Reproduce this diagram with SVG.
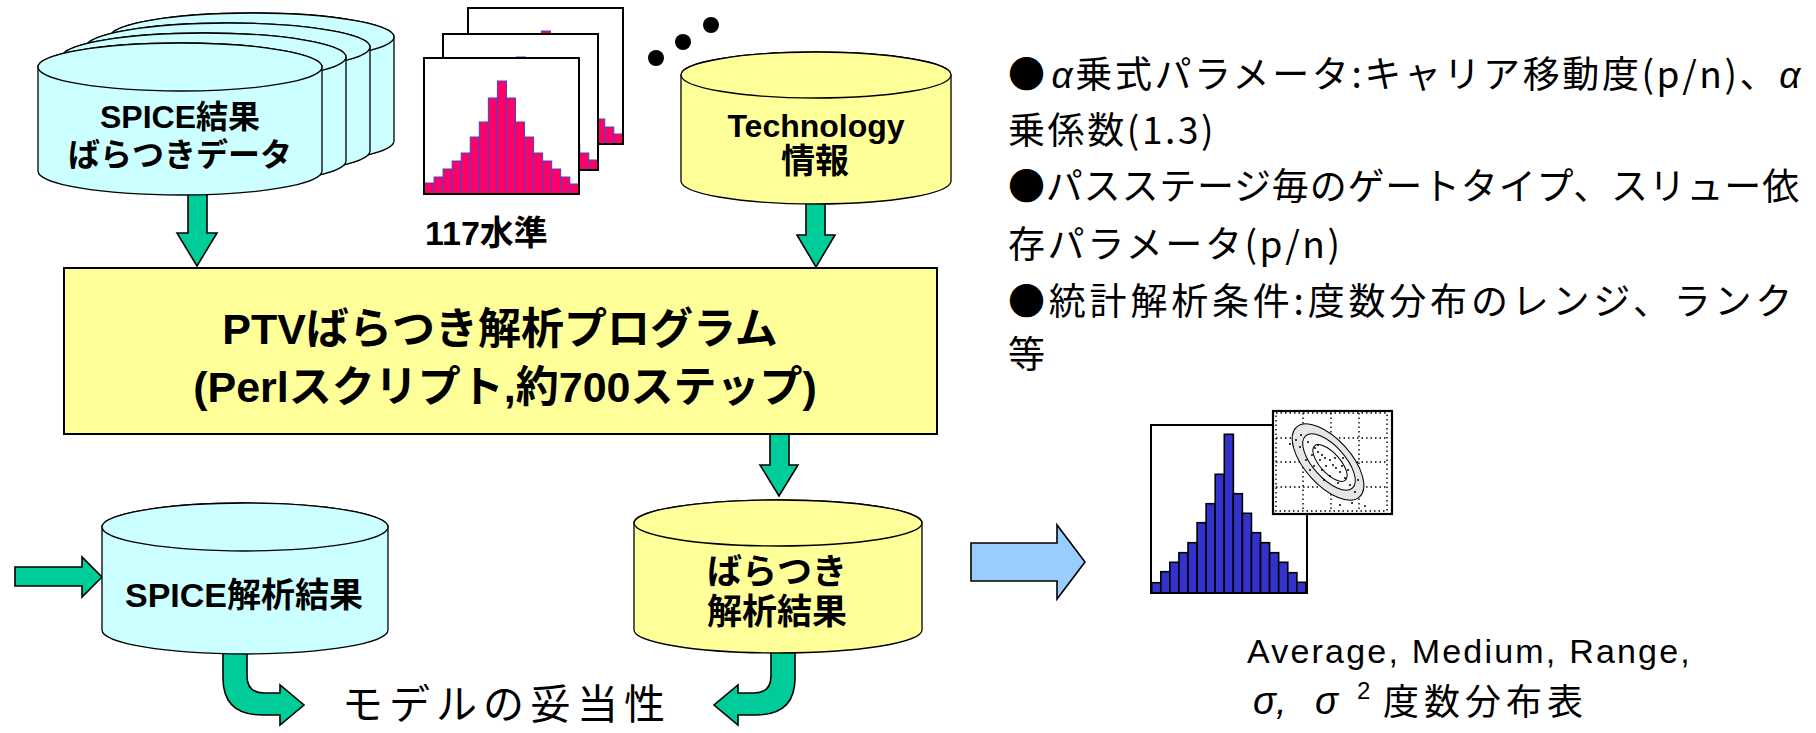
<svg xmlns="http://www.w3.org/2000/svg" xmlns:xlink="http://www.w3.org/1999/xlink" width="1816" height="733" viewBox="0 0 1816 733">
<style>
.cyl-c{fill:#CCFFFF;stroke:#000;stroke-width:1.3}
.cyl-y{fill:#FFFF99;stroke:#000;stroke-width:1.3}
.garrow{fill:#00CC99;stroke:#000;stroke-width:1.6;stroke-linejoin:miter}
.barrow{fill:#99CCFF;stroke:#000;stroke-width:1.6}
.lb{font-family:"Liberation Sans","Noto Sans CJK JP",sans-serif;font-weight:bold;fill:#000}
.jr{font-family:"Noto Sans CJK JP","Liberation Sans",sans-serif;fill:#000}
.lr{font-family:"Liberation Sans","Noto Sans CJK JP",sans-serif;fill:#000}
.pbar{fill:#FF0066;stroke:#4444CC;stroke-width:1}
.bbar{fill:#3333CC;stroke:#000;stroke-width:1.6}
.frame{fill:none;stroke:#000;stroke-width:2}
.dot{stroke:#000;stroke-width:1.4;stroke-dasharray:1.5 3;fill:none}
.note{font-size:37px}
</style>
<defs>
<g id="phist">
<rect x="0" y="0" width="155" height="136" fill="#fff"/>
<rect class="pbar" x="1" y="125" width="9.05" height="11"/>
<rect class="pbar" x="10.05" y="119" width="9.05" height="17"/>
<rect class="pbar" x="19.1" y="111" width="9.05" height="25"/>
<rect class="pbar" x="28.15" y="103" width="9.05" height="33"/>
<rect class="pbar" x="37.2" y="95" width="9.05" height="41"/>
<rect class="pbar" x="46.25" y="79" width="9.05" height="57"/>
<rect class="pbar" x="55.3" y="64" width="9.05" height="72"/>
<rect class="pbar" x="64.35" y="40" width="9.05" height="96"/>
<rect class="pbar" x="73.4" y="23" width="9.05" height="113"/>
<rect class="pbar" x="82.45" y="40" width="9.05" height="96"/>
<rect class="pbar" x="91.5" y="64" width="9.05" height="72"/>
<rect class="pbar" x="100.55" y="79" width="9.05" height="57"/>
<rect class="pbar" x="109.6" y="95" width="9.05" height="41"/>
<rect class="pbar" x="118.65" y="103" width="9.05" height="33"/>
<rect class="pbar" x="127.7" y="111" width="9.05" height="25"/>
<rect class="pbar" x="136.75" y="119" width="9.05" height="17"/>
<rect class="pbar" x="145.8" y="126" width="9.05" height="10"/>
<rect class="frame" x="0" y="0" width="155" height="136"/>
</g>
</defs>

<g id="connectors">
<polygon class="garrow" points="188,190 207,190 207,233 217,233 197,266 177,233 188,233"/>
<polygon class="garrow" points="806,198 825,198 825,235 835,235 816,267 797,235 806,235"/>
<polygon class="garrow" points="770,434 789,434 789,465 798,465 779,496 760,465 770,465"/>
<polygon class="garrow" points="15,567 82,567 82,557 102,577 82,597 82,586 15,586"/>
<path class="garrow" d="M223,648 H247 V676 Q247,693 264,693 H280 V685 L304,705 L280,725 V715 H262 Q223,715 223,678 Z"/>
<path class="garrow" d="M795,648 H771 V676 Q771,693 754,693 H738 V685 L714,705 L738,725 V715 H756 Q795,715 795,678 Z"/>
<polygon class="barrow" points="971,543 1057,543 1057,525 1085,562 1057,599 1057,581 971,581"/>
</g>

<g id="spice-data">
<path class="cyl-c" d="M110,37 V141 A142,24 0 0 0 394,141 V37 A142,24 0 0 0 110,37 Z"/>
<ellipse class="cyl-c" cx="252" cy="37" rx="142" ry="24"/>
<path class="cyl-c" d="M86,47 V151 A142,24 0 0 0 370,151 V47 A142,24 0 0 0 86,47 Z"/>
<ellipse class="cyl-c" cx="228" cy="47" rx="142" ry="24"/>
<path class="cyl-c" d="M62,57 V161 A142,24 0 0 0 346,161 V57 A142,24 0 0 0 62,57 Z"/>
<ellipse class="cyl-c" cx="204" cy="57" rx="142" ry="24"/>
<path class="cyl-c" d="M38,67 V171 A142,24 0 0 0 322,171 V67 A142,24 0 0 0 38,67 Z"/>
<ellipse class="cyl-c" cx="180" cy="67" rx="142" ry="24"/>
<text class="lb" x="180" y="128" font-size="32" text-anchor="middle">SPICE結果</text>
<text class="lb" x="180" y="166" font-size="32" text-anchor="middle">ばらつきデータ</text>
</g>

<g id="histograms-117">
<use xlink:href="#phist" href="#phist" transform="translate(468,8)"/>
<use xlink:href="#phist" href="#phist" transform="translate(443,34)"/>
<use xlink:href="#phist" href="#phist" transform="translate(424,58)"/>
<text class="lb" x="425" y="245" font-size="34">117水準</text>
</g>

<g id="ellipsis-dots">
<circle cx="656" cy="58" r="8"/>
<circle cx="683" cy="42" r="8"/>
<circle cx="711" cy="25" r="8"/>
</g>

<g id="technology">
<path class="cyl-y" d="M681,75 V181 A135,23 0 0 0 951,181 V75 A135,23 0 0 0 681,75 Z"/>
<ellipse class="cyl-y" cx="816" cy="75" rx="135" ry="23"/>
<text class="lb" x="816" y="137" font-size="32" text-anchor="middle">Technology</text>
<text class="lb" x="815" y="173" font-size="34" text-anchor="middle">情報</text>
</g>

<g id="ptv-program">
<rect x="64" y="268" width="873" height="166" fill="#FFFF99" stroke="#000" stroke-width="2"/>
<text class="lb" x="500" y="344" font-size="43" text-anchor="middle">PTVばらつき解析プログラム</text>
<text class="lb" x="505" y="402" font-size="43" text-anchor="middle">(Perlスクリプト,約700ステップ)</text>
</g>

<g id="spice-result">
<path class="cyl-c" d="M102,527 V630 A143,24 0 0 0 388,630 V527 A143,24 0 0 0 102,527 Z"/>
<ellipse class="cyl-c" cx="245" cy="527" rx="143" ry="24"/>
<text class="lb" x="244" y="607" font-size="34" text-anchor="middle">SPICE解析結果</text>
</g>

<g id="variation-result">
<path class="cyl-y" d="M634,523 V630 A144,23 0 0 0 922,630 V523 A144,23 0 0 0 634,523 Z"/>
<ellipse class="cyl-y" cx="778" cy="523" rx="144" ry="23"/>
<text class="lb" x="777" y="584" font-size="35" text-anchor="middle">ばらつき</text>
<text class="lb" x="777" y="624" font-size="35" text-anchor="middle">解析結果</text>
</g>

<g id="model-validity">
<text class="jr" x="342" y="719" font-size="41" letter-spacing="6">モデルの妥当性</text>
</g>

<g id="result-charts">
<rect x="1151" y="425" width="156" height="168" fill="#fff"/>
<rect class="bbar" x="1151.7" y="582.7" width="9.07" height="10.3"/>
<rect class="bbar" x="1160.8" y="571.7" width="9.07" height="21.3"/>
<rect class="bbar" x="1169.8" y="562.3" width="9.07" height="30.7"/>
<rect class="bbar" x="1178.9" y="552.7" width="9.07" height="40.3"/>
<rect class="bbar" x="1188.0" y="542.7" width="9.07" height="50.3"/>
<rect class="bbar" x="1197.1" y="522.7" width="9.07" height="70.3"/>
<rect class="bbar" x="1206.1" y="503.7" width="9.07" height="89.3"/>
<rect class="bbar" x="1215.2" y="474.3" width="9.07" height="118.7"/>
<rect class="bbar" x="1224.3" y="434.3" width="9.07" height="158.7"/>
<rect class="bbar" x="1233.3" y="493.7" width="9.07" height="99.3"/>
<rect class="bbar" x="1242.4" y="513.3" width="9.07" height="79.7"/>
<rect class="bbar" x="1251.5" y="532.7" width="9.07" height="60.3"/>
<rect class="bbar" x="1260.5" y="542.7" width="9.07" height="50.3"/>
<rect class="bbar" x="1269.6" y="552.7" width="9.07" height="40.3"/>
<rect class="bbar" x="1278.7" y="562.3" width="9.07" height="30.7"/>
<rect class="bbar" x="1287.8" y="572.7" width="9.07" height="20.3"/>
<rect class="bbar" x="1296.8" y="582.3" width="9.07" height="10.7"/>
<rect class="frame" x="1151" y="425" width="156" height="168" stroke-width="1.6"/>
<rect x="1273" y="411" width="119" height="103" fill="#fff" stroke="#000" stroke-width="2.2"/>
<rect class="dot" x="1276" y="413" width="111" height="98"/>
<line class="dot" x1="1303" y1="413" x2="1303" y2="511"/>
<line class="dot" x1="1331" y1="413" x2="1331" y2="511"/>
<line class="dot" x1="1359" y1="413" x2="1359" y2="511"/>
<line class="dot" x1="1276" y1="438" x2="1387" y2="438"/>
<line class="dot" x1="1276" y1="462" x2="1387" y2="462"/>
<line class="dot" x1="1276" y1="487" x2="1387" y2="487"/>
<ellipse cx="1328" cy="462" rx="47" ry="23" transform="rotate(48 1328 462)" fill="#E6E6E6" stroke="#000" stroke-width="1"/>
<ellipse cx="1329" cy="462" rx="35" ry="16" transform="rotate(48 1329 462)" fill="#F7F7F7" stroke="#000" stroke-width="1"/>
<ellipse cx="1330" cy="463" rx="23" ry="10" transform="rotate(48 1330 463)" fill="#fff" stroke="#000" stroke-width="1"/>
<g fill="#000">
<circle cx="1315" cy="448" r="1"/><circle cx="1318" cy="452" r="1"/><circle cx="1322" cy="455" r="1"/>
<circle cx="1325" cy="458" r="1"/><circle cx="1330" cy="460" r="1"/><circle cx="1333" cy="465" r="1"/>
<circle cx="1336" cy="468" r="1"/><circle cx="1340" cy="472" r="1"/><circle cx="1320" cy="460" r="1"/>
<circle cx="1326" cy="466" r="1"/><circle cx="1312" cy="455" r="1"/><circle cx="1335" cy="458" r="1"/>
<circle cx="1342" cy="466" r="1"/><circle cx="1318" cy="445" r="1"/><circle cx="1308" cy="442" r="1"/>
<circle cx="1345" cy="478" r="1"/><circle cx="1350" cy="485" r="1"/><circle cx="1301" cy="435" r="1"/>
<circle cx="1296" cy="440" r="1"/><circle cx="1355" cy="492" r="1"/><circle cx="1338" cy="483" r="1"/>
<circle cx="1330" cy="476" r="1"/><circle cx="1322" cy="470" r="1"/><circle cx="1314" cy="466" r="1"/>
<circle cx="1306" cy="460" r="1"/><circle cx="1343" cy="458" r="1"/><circle cx="1348" cy="470" r="1"/>
<circle cx="1300" cy="447" r="1"/><circle cx="1290" cy="444" r="1"/><circle cx="1310" cy="470" r="1"/>
<circle cx="1352" cy="503" r="1"/><circle cx="1365" cy="506" r="1"/><circle cx="1340" cy="505" r="1"/>
<circle cx="1324" cy="480" r="1"/><circle cx="1358" cy="480" r="1"/>
</g>
<text class="lr" x="1247" y="663" font-size="34" letter-spacing="2.2">Average, Medium, Range,</text>
<text class="lr" x="1253" y="714" font-size="38" font-style="italic">σ,</text>
<text class="lr" x="1315" y="714" font-size="38" font-style="italic">σ</text>
<text class="lr" x="1357" y="699" font-size="24">2</text>
<text class="jr" x="1383" y="715" font-size="36" letter-spacing="5">度数分布表</text>
</g>

<g id="notes">
<text class="jr note" x="1008" y="88" letter-spacing="2.6">●<tspan font-family="Liberation Sans" font-style="italic" dx="4">α</tspan>乗式パラメータ:キャリア移動度(p/n)、<tspan font-family="Liberation Sans" font-style="italic">α</tspan></text>
<text class="jr note" x="1008" y="144" letter-spacing="2.6">乗係数(1.3)</text>
<text class="jr note" x="1008" y="200" letter-spacing="0.8">●パスステージ毎のゲートタイプ、スリュー依</text>
<text class="jr note" x="1008" y="258" letter-spacing="2.6">存パラメータ(p/n)</text>
<text class="jr note" x="1008" y="315" letter-spacing="3.8">●統計解析条件:度数分布のレンジ、ランク</text>
<text class="jr note" x="1008" y="368" letter-spacing="3">等</text>
</g>
</svg>
